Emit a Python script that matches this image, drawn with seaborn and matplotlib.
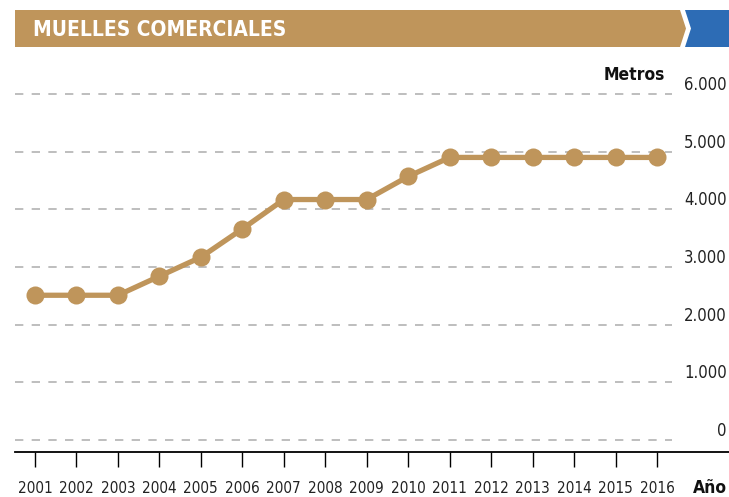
import matplotlib
matplotlib.use('Agg')
import matplotlib.pyplot as plt
import seaborn as sns
import pandas as pd
from matplotlib.patches import Polygon
from matplotlib import font_manager

years = [2001, 2002, 2003, 2004, 2005, 2006, 2007, 2008, 2009, 2010, 2011, 2012, 2013, 2014, 2015, 2016]
metros = [2510, 2510, 2510, 2840, 3170, 3660, 4170, 4170, 4170, 4570, 4900, 4900, 4900, 4900, 4900, 4900]
ytick_values = [0, 1000, 2000, 3000, 4000, 5000, 6000]
ytick_labels = ['0', '1.000', '2.000', '3.000', '4.000', '5.000', '6.000']
title = 'MUELLES COMERCIALES'
y_title = 'Metros'
x_title = 'Año'

sns.set_theme(style='white')
plt.rcParams['font.family'] = ['DejaVu Sans']
plt.rcParams['font.stretch'] = 'condensed'

names = sorted({(f.name, f.stretch, f.weight) for f in font_manager.fontManager.ttflist})
print([n for n in names if 'ondens' in str(n) or 'arrow' in str(n[0])])

W, H = 729, 497
fig = plt.figure(figsize=(W / 100, H / 100), dpi=100)
fig.patch.set_facecolor('white')

def fx(px):
    return px / W

def fy(py):
    return 1 - py / H

tan = '#BF955B'
blue = '#2D6CB5'

ax = fig.add_axes([fx(15), fy(452), fx(729) - fx(15), fy(60) - fy(452)])
df = pd.DataFrame({'year': years, 'metros': metros})
sns.lineplot(data=df, x='year', y='metros', ax=ax, color=tan, lw=3.8,
             marker='o', markersize=13, markeredgewidth=0, zorder=3)

px_per_year = (657 - 35) / 15
ax.set_xlim(2001 - 20 / px_per_year, 2016 + 72 / px_per_year)
px_per_unit = (440 - 94) / 6000
ax.set_ylim(-12 / px_per_unit, 6000 + 34 / px_per_unit)
grid_end = 2016 + 15 / px_per_year
x0 = ax.get_xlim()[0]
for v, lab in zip(ytick_values, ytick_labels):
    ax.hlines(v, x0, grid_end, colors='#b3b3b3', linestyles=(0, (5, 5)), lw=1.2, zorder=1)
    ax.text(0.997, v + 9 / px_per_unit, lab, transform=ax.get_yaxis_transform(),
            ha='right', va='center', fontsize=12, color='#222222')

for s in ['left', 'top', 'right']:
    ax.spines[s].set_visible(False)
ax.spines['bottom'].set_color('black')
ax.spines['bottom'].set_linewidth(1.3)
ax.set_yticks([])
ax.set_xticks(years)
ax.set_xticklabels([str(y) for y in years], fontsize=11, color='#222222')
ax.tick_params(axis='x', direction='out', length=11, width=1, color='black', pad=10, bottom=True)
ax.set_xlabel('')
ax.set_ylabel('')

fig.text(fx(665), fy(75), y_title, ha='right', va='center', fontsize=12.5, fontweight='bold', color='#111111')
fig.text(fx(727), fy(488), x_title, ha='right', va='center', fontsize=12.5, fontweight='bold', color='#111111')

# banner
tan_poly = Polygon([(fx(15), fy(10)), (fx(680), fy(10)), (fx(686), fy(28.5)), (fx(680), fy(47)), (fx(15), fy(47))],
                   closed=True, transform=fig.transFigure, facecolor=tan, edgecolor='none')
blue_poly = Polygon([(fx(685), fy(10)), (fx(729), fy(10)), (fx(729), fy(47)), (fx(685), fy(47)), (fx(691), fy(28.5))],
                    closed=True, transform=fig.transFigure, facecolor=blue, edgecolor='none')
fig.patches.extend([tan_poly, blue_poly])
fig.text(fx(33), fy(29.5), title, ha='left', va='center', fontsize=15, fontweight='bold', color='white')

fig.savefig('out.png', dpi=100, facecolor='white')
